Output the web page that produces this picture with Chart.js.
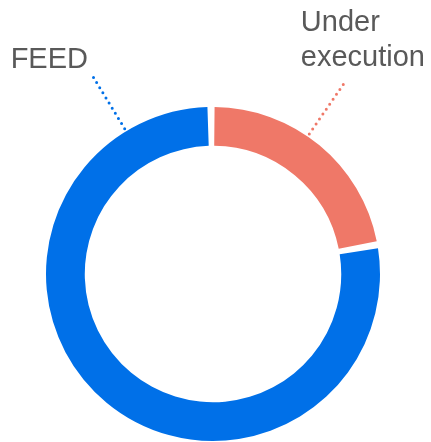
<!DOCTYPE html>
<html>
<head>
<meta charset="utf-8">
<script src="https://cdn.jsdelivr.net/npm/chart.js@4.4.0/dist/chart.umd.min.js"></script>
<style>
  html, body { margin: 0; padding: 0; background: #fff; }
  #wrap { width: 431px; height: 442px; }
</style>
</head>
<body>
<div id="wrap"><canvas id="grafica"></canvas></div>
<script>
// categorias y valores
var categorias = ['Under execution', 'FEED'];
var valores = [22, 78];
var colores = ['#EF7868', '#0070E8'];

// etiquetas con linea punteada
var etiquetasPlugin = {
    id: 'etiquetas',
    afterDatasetsDraw: function(chart, args, opts) {
        var ctx = chart.ctx;
        var meta = chart.getDatasetMeta(0);
        var arc = meta.data[0];
        var cx = arc.x, cy = arc.y, R = arc.outerRadius;

        opts.items.forEach(function(item) {
            var a = item.angle * Math.PI / 180;
            var x1 = cx + Math.sin(a) * (R + 5);
            var y1 = cy - Math.cos(a) * (R + 5);
            var x2 = cx + Math.sin(a) * (R + 66);
            var y2 = cy - Math.cos(a) * (R + 66);

            ctx.save();
            ctx.strokeStyle = colores[item.index];
            ctx.lineWidth = 3;
            ctx.lineCap = 'round';
            ctx.setLineDash([0, 6]);
            ctx.beginPath();
            ctx.moveTo(x1, y1);
            ctx.lineTo(x2, y2);
            ctx.stroke();
            ctx.restore();

            ctx.save();
            ctx.fillStyle = '#595959';
            ctx.font = '29px "Liberation Sans", Arial, sans-serif';
            ctx.textAlign = item.align;
            ctx.textBaseline = 'alphabetic';
            var lineas = item.lines;
            for (var i = 0; i < lineas.length; i++) {
                var ty = y2 + item.dy - (lineas.length - 1 - i) * 35;
                ctx.fillText(lineas[i], x2 + item.dx, ty);
            }
            ctx.restore();
        });
    }
};

var config = {
    type: 'doughnut',
    data: {
        labels: categorias,
        datasets: [{
            data: valores,
            backgroundColor: colores,
            borderWidth: 0,
            spacing: 4
        }]
    },
    options: {
        responsive: true,
        maintainAspectRatio: false,
        animation: false,
        cutout: '76.5%',
        layout: {
            padding: { top: 107, left: 46, right: 51, bottom: 1 }
        },
        plugins: {
            legend: { display: false },
            tooltip: { enabled: false },
            etiquetas: {
                items: [
                    { index: 0, angle: 34.5, lines: ['Under', 'execution'], align: 'left', dx: -43, dy: -18 },
                    { index: 1, angle: -31.3, lines: ['FEED'], align: 'right', dx: -5, dy: -9 }
                ]
            }
        }
    },
    plugins: [etiquetasPlugin]
};

var ctx = document.getElementById('grafica').getContext('2d');
window.myDoughnut = new Chart(ctx, config);
</script>
</body>
</html>
